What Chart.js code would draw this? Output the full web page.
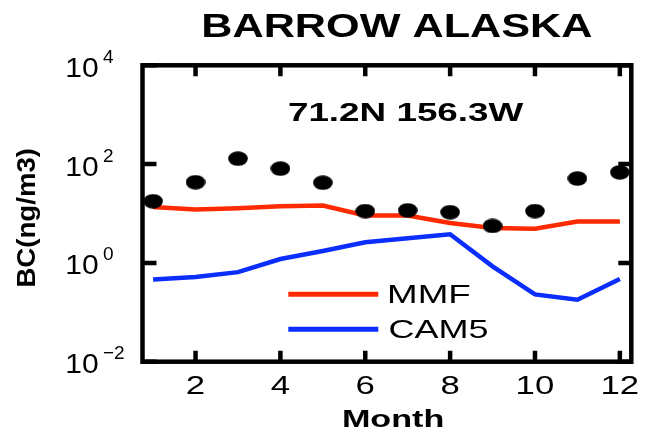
<!DOCTYPE html>
<html>
<head>
<meta charset="utf-8">
<script src="https://cdn.jsdelivr.net/npm/chart.js@4.4.1/dist/chart.umd.min.js"></script>
<style>
  html, body { margin: 0; padding: 0; background: #ffffff; }
  #wrap { width: 646px; height: 430px; }
</style>
</head>
<body>
<div id="wrap"><canvas id="c" width="646" height="430"></canvas></div>
<script>
// Monthly black carbon at Barrow, Alaska (ng/m3)
const months = [1, 2, 3, 4, 5, 6, 7, 8, 9, 10, 11, 12];
const observed = [17.7, 43, 129, 81, 42, 11.2, 11.6, 10.6, 5.6, 11.2, 51, 68];
const mmf = [13.5, 12.0, 12.7, 14.0, 14.5, 9.1, 9.1, 6.4, 5.1, 4.9, 6.9, 6.9];
const cam5 = [0.46, 0.52, 0.65, 1.2, 1.74, 2.61, 3.15, 3.79, 0.85, 0.23, 0.18, 0.47];

const xTickValues = [2, 4, 6, 8, 10, 12];
const yTickExponents = [-2, 0, 2, 4];

const chartTitle = 'BARROW ALASKA';
const siteLabel = '71.2N 156.3W';
const xTitle = 'Month';
const yTitle = 'BC(ng/m3)';

const RED = '#ff2a00';
const BLUE = '#0b2eff';
const FONT = '"Liberation Sans", Arial, Helvetica, sans-serif';

// Filled black ellipse used as the marker for observations
const dot = document.createElement('canvas');
dot.width = 20; dot.height = 15;
(function () {
  const g = dot.getContext('2d');
  g.fillStyle = '#000';
  g.beginPath();
  g.ellipse(10, 7.5, 9.8, 7.3, 0, 0, Math.PI * 2);
  g.fill();
})();

const toPoints = arr => months.map((m, i) => ({ x: m, y: arr[i] }));

// Draw text so that its ink spans a given width (horizontally scaled glyphs)
function fitText(ctx, str, x, baseline, font, width, align) {
  ctx.font = font;
  const m = ctx.measureText(str);
  const ink = m.actualBoundingBoxLeft + m.actualBoundingBoxRight;
  const sx = width / ink;
  ctx.save();
  ctx.translate(x, baseline);
  ctx.scale(sx, 1);
  ctx.textAlign = 'left';
  ctx.textBaseline = 'alphabetic';
  const start = align === 'center' ? -ink / 2 : 0;
  ctx.fillText(str, start + m.actualBoundingBoxLeft, 0);
  ctx.restore();
}

function inkScale(ctx, str, font, width) {
  ctx.font = font;
  const m = ctx.measureText(str);
  return width / (m.actualBoundingBoxLeft + m.actualBoundingBoxRight);
}

const frameAndText = {
  id: 'frameAndText',
  afterDatasetsDraw(chart) {
    const ctx = chart.ctx;
    const a = chart.chartArea;
    const xs = chart.scales.x;
    const ys = chart.scales.y;

    ctx.save();
    ctx.strokeStyle = '#000';
    ctx.fillStyle = '#000';

    // inward tick marks on all four sides
    ctx.lineWidth = 4.5;
    ctx.lineCap = 'butt';
    ctx.beginPath();
    xTickValues.forEach(v => {
      const px = xs.getPixelForValue(v);
      ctx.moveTo(px, a.bottom); ctx.lineTo(px, a.bottom - 11);
      ctx.moveTo(px, a.top); ctx.lineTo(px, a.top + 11);
    });
    yTickExponents.forEach(e => {
      const py = ys.getPixelForValue(Math.pow(10, e));
      ctx.moveTo(a.left, py); ctx.lineTo(a.left + 14, py);
      ctx.moveTo(a.right, py); ctx.lineTo(a.right - 13, py);
    });
    ctx.stroke();

    // axes box
    ctx.lineWidth = 4.5;
    ctx.lineJoin = 'miter';
    ctx.strokeRect(a.left, a.top, a.right - a.left, a.bottom - a.top);

    // x tick labels
    const xFont = '25px ' + FONT;
    const sxX = inkScale(ctx, '10', xFont, 36);
    xTickValues.forEach(v => {
      const s = String(v);
      ctx.font = xFont;
      const m = ctx.measureText(s);
      const ink = m.actualBoundingBoxLeft + m.actualBoundingBoxRight;
      fitText(ctx, s, xs.getPixelForValue(v), 393.5, xFont, ink * sxX, 'center');
    });

    // y tick labels: 10 with superscript exponent
    yTickExponents.forEach(e => {
      const py = ys.getPixelForValue(Math.pow(10, e));
      const base = py + 11.5;
      fitText(ctx, '10', 67.5, base, '27px ' + FONT, 30, 'left');
      ctx.font = '19px ' + FONT;
      ctx.textAlign = 'left';
      ctx.textBaseline = 'alphabetic';
      const expText = e < 0 ? '\u2212' + Math.abs(e) : String(e);
      ctx.fillText(expText, 103, base - 14);
    });

    // axis titles
    fitText(ctx, xTitle, 393.3, 427, 'bold 24px ' + FONT, 100, 'center');
    ctx.save();
    ctx.translate(35, 217.5);
    ctx.rotate(-Math.PI / 2);
    fitText(ctx, yTitle, 0, 0, 'bold 25.5px ' + FONT, 138, 'center');
    ctx.restore();

    // chart title and site coordinates
    fitText(ctx, chartTitle, 397.8, 37.3, 'bold 34px ' + FONT, 388, 'center');
    fitText(ctx, siteLabel, 406.3, 120.7, 'bold 26.5px ' + FONT, 234, 'center');

    // legend for the two model runs
    const legend = [
      { ds: chart.data.datasets[1], y: 294.2, base: 303.3, w: 80 },
      { ds: chart.data.datasets[2], y: 329.2, base: 338.3, w: 98.3 }
    ];
    legend.forEach(item => {
      ctx.strokeStyle = item.ds.borderColor;
      ctx.lineWidth = 5;
      ctx.beginPath();
      ctx.moveTo(288.3, item.y);
      ctx.lineTo(378.3, item.y);
      ctx.stroke();
      ctx.fillStyle = '#000';
      fitText(ctx, item.ds.label, 390, item.base, '25.5px ' + FONT, item.w, 'left');
    });

    ctx.restore();
  }
};

const whiteBg = {
  id: 'whiteBg',
  beforeDraw(chart) {
    const ctx = chart.ctx;
    ctx.save();
    ctx.fillStyle = '#ffffff';
    ctx.fillRect(0, 0, chart.width, chart.height);
    ctx.restore();
  }
};

new Chart(document.getElementById('c'), {
  type: 'line',
  data: {
    datasets: [
      {
        label: 'Observed',
        data: toPoints(observed),
        showLine: false,
        pointStyle: dot,
        pointRadius: 10,
        pointHoverRadius: 10,
        order: 0
      },
      {
        label: 'MMF',
        data: toPoints(mmf),
        borderColor: RED,
        borderWidth: 4.5,
        pointRadius: 0,
        tension: 0,
        order: 1
      },
      {
        label: 'CAM5',
        data: toPoints(cam5),
        borderColor: BLUE,
        borderWidth: 4.5,
        pointRadius: 0,
        tension: 0,
        order: 2
      }
    ]
  },
  options: {
    responsive: false,
    animation: false,
    devicePixelRatio: 1,
    layout: { padding: { left: 142.5, right: 14.7, top: 65.3, bottom: 68.3 } },
    plugins: {
      legend: { display: false },
      title: { display: false },
      tooltip: { enabled: false }
    },
    scales: {
      x: {
        type: 'linear',
        display: false,
        min: 0.75,
        max: 12.27
      },
      y: {
        type: 'logarithmic',
        display: false,
        min: 0.01,
        max: 10000
      }
    }
  },
  plugins: [whiteBg, frameAndText]
});
</script>
</body>
</html>
